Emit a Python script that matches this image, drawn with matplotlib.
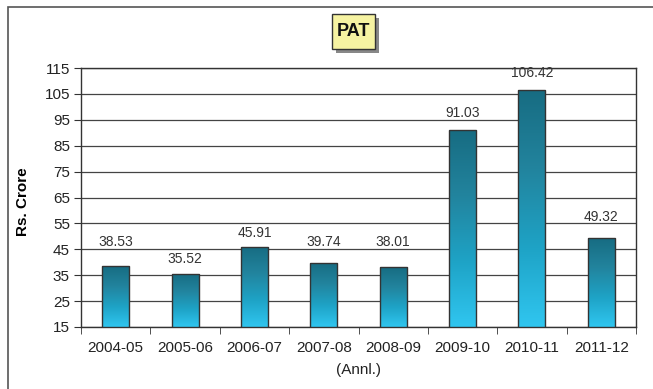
import matplotlib
matplotlib.use("Agg")
import matplotlib.pyplot as plt
import numpy as np
from matplotlib.patches import Rectangle
from matplotlib.colors import LinearSegmentedColormap

plt.rcParams['font.family'] = ['Liberation Sans', 'DejaVu Sans']

categories = ["2004-05", "2005-06", "2006-07", "2007-08", "2008-09", "2009-10", "2010-11", "2011-12"]
values = [38.53, 35.52, 45.91, 39.74, 38.01, 91.03, 106.42, 49.32]
# vertical centres of the value labels (data units), as placed in the original
label_y = [47.9, 41.1, 51.2, 47.9, 47.9, 97.5, 113.0, 57.6]
yticks = [15, 25, 35, 45, 55, 65, 75, 85, 95, 105, 115]

W, H = 653, 389
fig = plt.figure(figsize=(W / 100, H / 100), dpi=100)
# outer frame (left and top edges visible)
fig.add_artist(Rectangle((8 / W, -0.05), 1.0, 1 - 7 / H + 0.05, transform=fig.transFigure,
                         fill=False, edgecolor='#555555', linewidth=1.2))

ax = fig.add_axes([81 / W, 1 - 327 / H, (636 - 81) / W, (327 - 68) / H])

cmap = LinearSegmentedColormap.from_list("g", ["#30c6f0", "#1ea3c6", "#22849e", "#176c82"])
grad = np.linspace(0, 1, 256).reshape(-1, 1)
bw = 0.39
for i, v in enumerate(values):
    x0 = i - bw / 2
    im = ax.imshow(grad, extent=[x0, x0 + bw, 15, v], origin='lower', cmap=cmap,
                   aspect='auto', zorder=3)
    r = Rectangle((x0, 15), bw, v - 15, fill=False, edgecolor='#333333', linewidth=1.0, zorder=4)
    ax.add_patch(r)
    im.set_clip_path(r)
    ax.text(i, label_y[i], f"{v:.2f}", ha='center', va='center', fontsize=10,
            color='#333333', zorder=5, clip_on=False)

ax.set_xlim(-0.5, len(categories) - 0.5)
ax.set_ylim(15, 115)
ax.set_yticks(yticks)
ax.set_yticklabels([str(t) for t in yticks], fontsize=11, color='#222222')
ax.yaxis.grid(True, color='#444444', linewidth=0.9)
ax.set_axisbelow(True)
ax.set_xticks(range(len(categories)))
ax.set_xticklabels(categories, fontsize=11, color='#222222')
ax.tick_params(axis='x', length=0, pad=10)
ax.set_xticks(np.arange(-0.5, len(categories), 1), minor=True)
ax.tick_params(axis='x', which='minor', length=5, direction='out', color='#333333')
ax.tick_params(axis='y', length=5, direction='out', color='#333333', pad=3)
for s in ['left', 'bottom', 'right', 'top']:
    ax.spines[s].set_color('#333333')
    ax.spines[s].set_linewidth(1.0)
ax.set_xlim(-0.5, len(categories) - 0.5)
ax.set_ylim(15, 115)

ax.set_ylabel("Rs. Crore", fontsize=11, fontweight='bold')
ax.yaxis.set_label_coords(-0.091, 0.483)
ax.set_xlabel("(Annl.)", fontsize=11, color='#222222', labelpad=6)

# title box with shadow
fig.add_artist(Rectangle((336 / W, 1 - 53 / H), 43 / W, 35 / H, transform=fig.transFigure,
                         facecolor='#888888', edgecolor='none', zorder=1))
fig.add_artist(Rectangle((332 / W, 1 - 49 / H), 43 / W, 35 / H, transform=fig.transFigure,
                         facecolor='#f6f3a2', edgecolor='#333333', linewidth=1.0, zorder=2))
fig.text(353.5 / W, 1 - 31.5 / H, "PAT", ha='center', va='center', fontsize=13,
         fontweight='bold', color='#111111', zorder=3)

fig.savefig("out.png", dpi=100)
